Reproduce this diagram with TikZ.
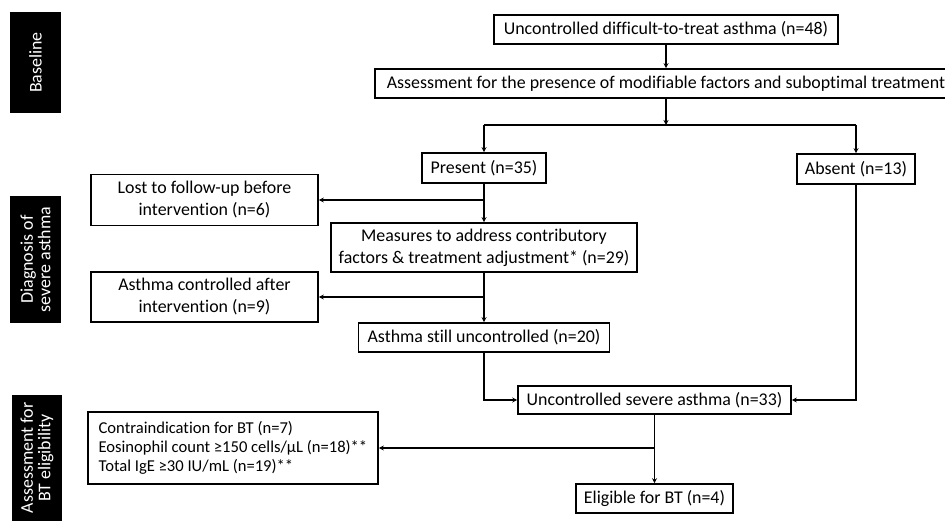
\documentclass[tikz,border=0pt]{standalone}
\usepackage{fontspec}
\setmainfont{Carlito}[Ligatures=NoCommon]
\usetikzlibrary{arrows.meta}
\tikzset{
  box/.style={draw, line width=1.6pt, inner sep=0pt, align=center},
  band/.style={fill=black, text=white, rotate=90, inner sep=0pt, align=center},
  flow/.style={line width=1.6pt, -{Stealth[length=5pt,width=5pt]}},
}
\begin{document}
\begin{tikzpicture}[x=1pt, y=-1pt, font=\fontsize{17.9}{22}\selectfont]
  \useasboundingbox (0,0) rectangle (945,521);
  % phases
  \node[band, minimum width=101pt, minimum height=51pt] at (35.5,62.5) (pbase) {Baseline};
  \node[band, minimum width=127pt, minimum height=51pt, font=\fontsize{17.9}{17.5}\selectfont] at (35.5,259.5) (pdiag) {Diagnosis of\\severe asthma};
  \node[band, minimum width=126pt, minimum height=50pt, font=\fontsize{17.9}{17.5}\selectfont] at (37,458) (pelig) {Assessment for\\BT eligibility};
  % boxes
  \node[box, minimum width=344pt, minimum height=29pt] at (666,29.5) (start) {Uncontrolled difficult-to-treat asthma (n=48)};
  \node[box, minimum width=582pt, minimum height=29pt] at (666,83.5) (assess) {Assessment for the presence of modifiable factors and suboptimal treatment};
  \coordinate (split) at (666,125);
  \node[box, minimum width=124pt, minimum height=30pt] at (484,168) (present) {Present (n=35)};
  \node[box, minimum width=118pt, minimum height=30pt] at (856,169) (absent) {Absent (n=13)};
  \node[box, minimum width=227pt, minimum height=51pt] at (204.5,200) (lost) {Lost to follow-up before\\intervention (n=6)};
  \node[box, minimum width=306pt, minimum height=49pt] at (484,247.5) (measures) {Measures to address contributory\\factors \& treatment adjustment* (n=29)};
  \node[box, minimum width=227pt, minimum height=50pt] at (204.5,297) (ctrl) {Asthma controlled after\\intervention (n=9)};
  \node[box, minimum width=251pt, minimum height=29pt] at (484,337.5) (still) {Asthma still uncontrolled (n=20)};
  \node[box, minimum width=273pt, minimum height=28pt] at (654.5,400) (severe) {Uncontrolled severe asthma (n=33)};
  \node[box, minimum width=290pt, minimum height=72pt, inner xsep=8pt, align=left, font=\fontsize{16.6}{18.7}\selectfont] at (233,448) (contra) {Contraindication for BT (n=7)\\Eosinophil count ≥150 cells/μL (n=18)**\\Total IgE ≥30 IU/mL (n=19)**};
  \node[box, minimum width=157pt, minimum height=29pt] at (654.5,498.5) (elig) {Eligible for BT (n=4)};
  % connectors
  \draw[flow] (start) -- (assess);
  \draw[flow] (assess) -- (split);
  \draw[line width=1.6pt] (present |- split) -- (absent |- split);
  \draw[flow] (present |- split) -- (present);
  \draw[flow] (absent |- split) -- (absent);
  \draw[flow] (present) -- (measures);
  \draw[flow] (present |- lost) -- (lost);
  \draw[flow] (measures) -- (still);
  \draw[flow] (measures |- ctrl) -- (ctrl);
  \draw[flow] (still) |- (severe);
  \draw[flow] (absent) |- (severe);
  \draw[flow] (severe) -- (elig);
  \draw[flow] (severe |- contra) -- (contra);
\end{tikzpicture}
\end{document}
